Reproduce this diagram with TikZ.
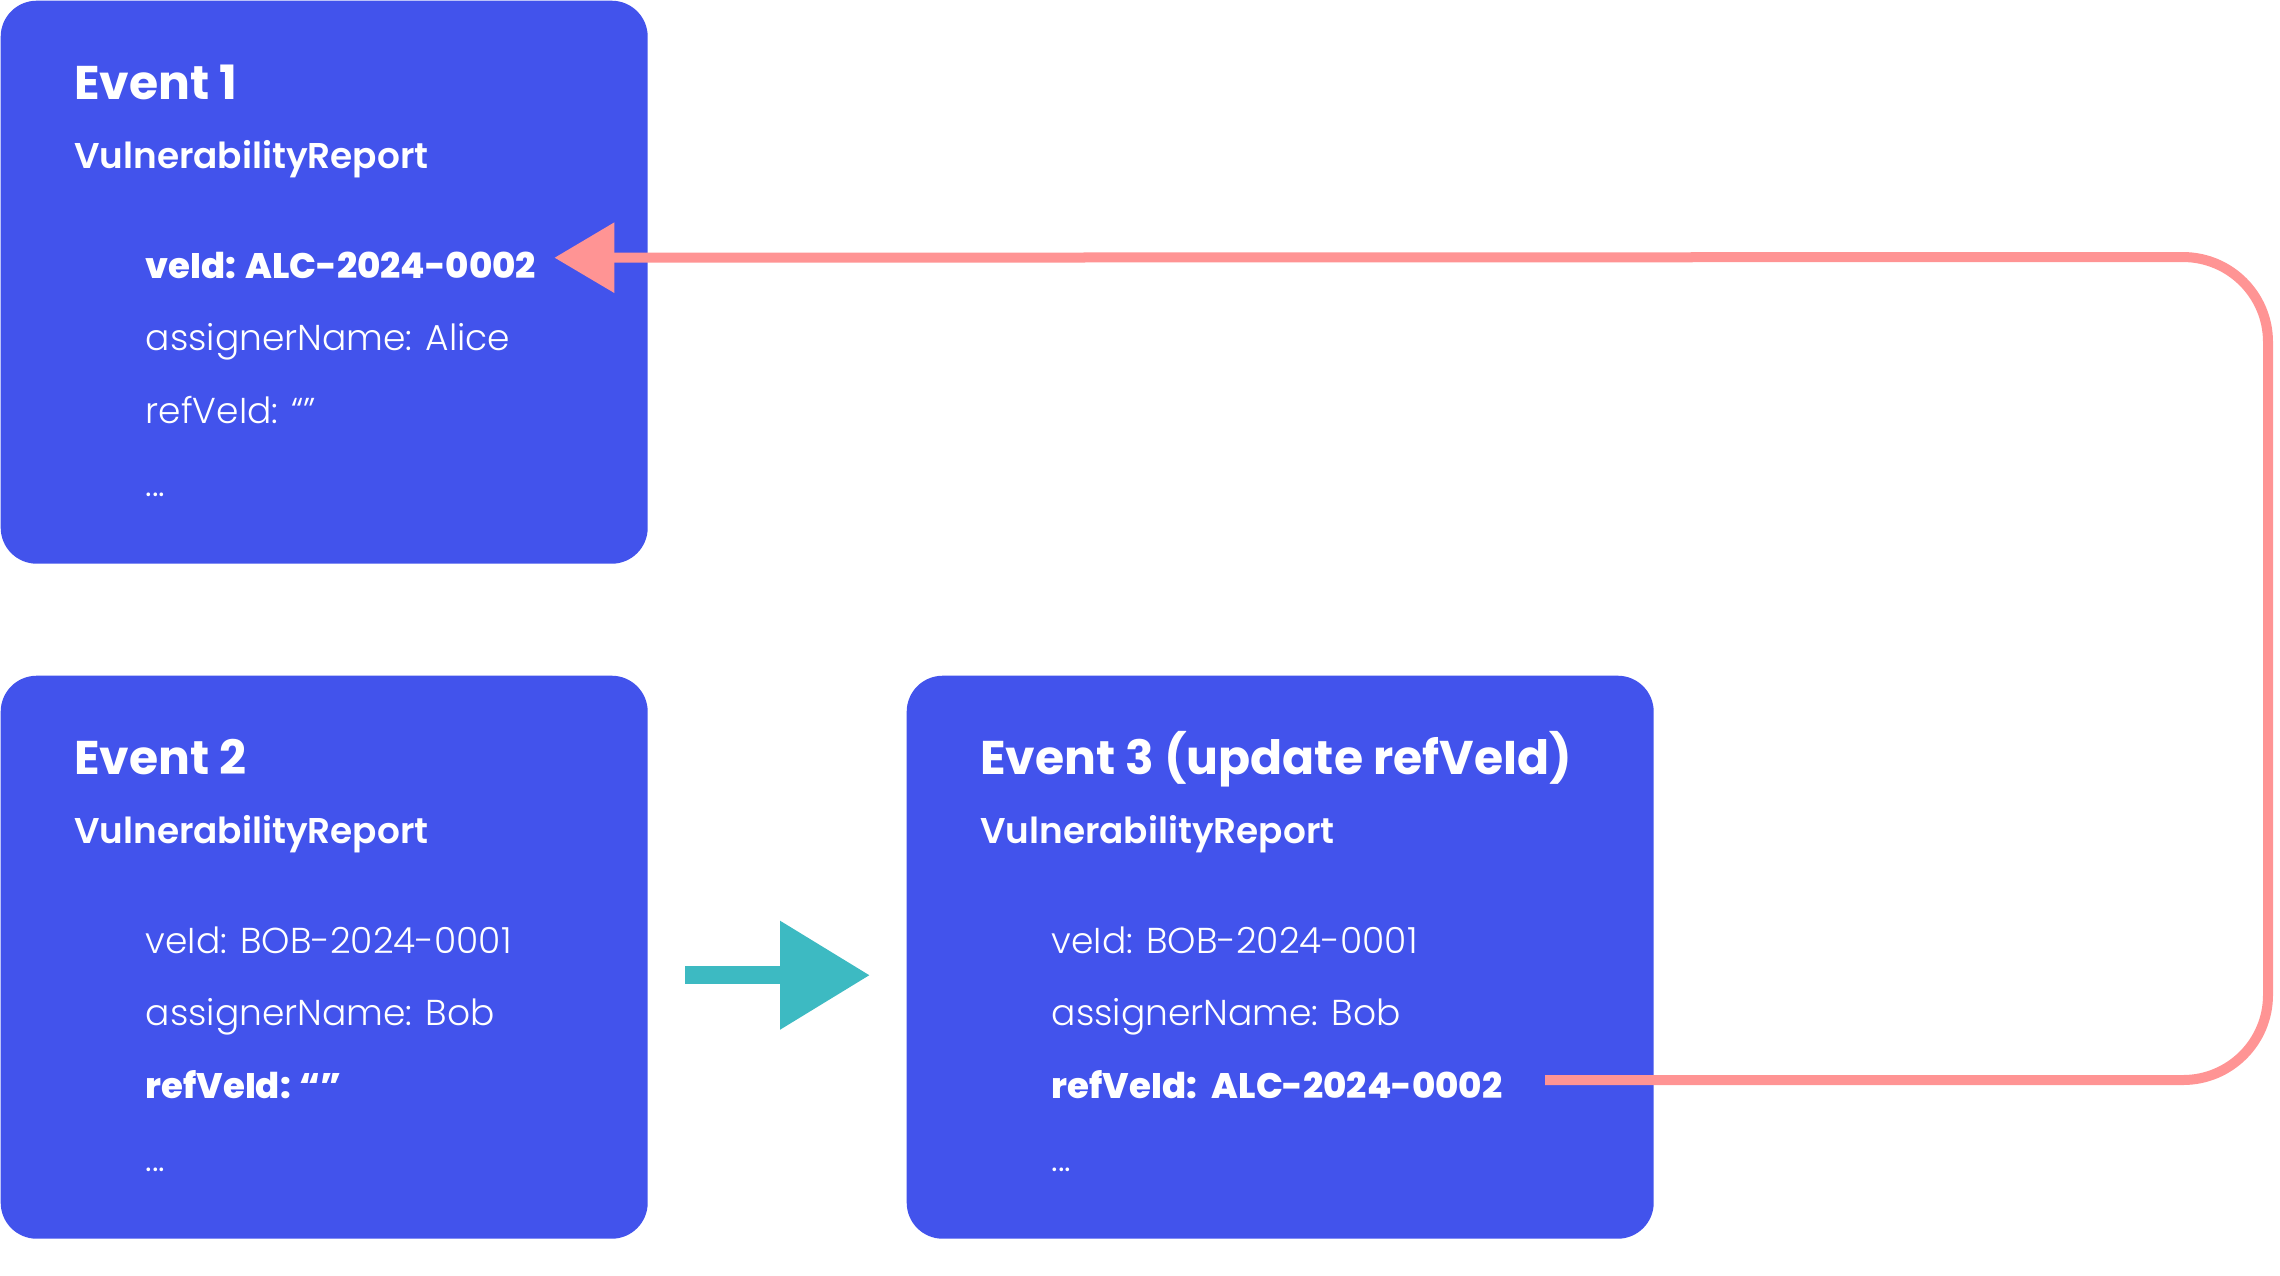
\documentclass[tikz,border=0pt]{standalone}
\usepackage{fontspec}
\setmainfont{Poppins}
\newfontfamily\evlight{Poppins Light}
\newfontfamily\evsemi{Poppins SemiBold}
\newfontfamily\evbold{Poppins Bold}
\newfontfamily\evheavy{Poppins ExtraBold}
\usetikzlibrary{positioning}
\usetikzlibrary{arrows.meta}
\definecolor{eventblue}{RGB}{66,83,236}
\definecolor{linkpink}{RGB}{255,148,148}
\definecolor{flowteal}{RGB}{61,186,194}
\tikzset{
  eventbox/.style={fill=eventblue, draw=none, rounded corners=0.36cm, anchor=north west, inner sep=0pt, minimum width=6.47cm, minimum height=5.63cm},
  evtitle/.style={anchor=base west, inner sep=0pt, text=white, font=\evbold\fontsize{13.45pt}{16pt}\selectfont},
  evtype/.style={anchor=base west, inner sep=0pt, text=white, font=\evsemi\fontsize{10.2pt}{12pt}\selectfont},
  evfield/.style={anchor=base west, inner sep=0pt, text=white, font=\evlight\fontsize{10.25pt}{12pt}\selectfont},
  evkey/.style={anchor=base west, inner sep=0pt, text=white, font=\evheavy\fontsize{10.1pt}{12pt}\selectfont},
  linkline/.style={draw=linkpink, line width=0.1cm, rounded corners=0.85cm, -{Triangle[length=0.6cm, width=0.68cm]}},
  flowarrow/.style={draw=flowteal, line width=0.18cm, -{Triangle[length=0.9cm, width=1.04cm]}}
}
\begin{document}
\begin{tikzpicture}

\useasboundingbox (0,0) rectangle (22.8,-12.75);

% event boxes
\node[eventbox] (ev1) at (0,0) {};
\node[eventbox] (ev2) at (0,-6.75) {};
\node[eventbox, minimum width=7.47cm] (ev3) at (9.06,-6.75) {};

% event 1
\node[evtitle] (title1) at ([xshift=0.735cm,yshift=-0.995cm]ev1.north west) {Event 1};
\node[evtype] (type1) at ([xshift=0.735cm,yshift=-1.68cm]ev1.north west) {VulnerabilityReport};
\node[evkey] (id1) at ([xshift=1.45cm,yshift=-2.78cm]ev1.north west) {veId: ALC-2024-0002};
\node[evfield] (name1) at ([xshift=1.45cm,yshift=-3.50cm]ev1.north west) {assignerName: Alice};
\node[evfield] (ref1) at ([xshift=1.45cm,yshift=-4.23cm]ev1.north west) {refVeId: “”};
\node[evfield] (more1) at ([xshift=1.45cm,yshift=-4.96cm]ev1.north west) {...};

% event 2
\node[evtitle] (title2) at ([xshift=0.735cm,yshift=-0.995cm]ev2.north west) {Event 2};
\node[evtype] (type2) at ([xshift=0.735cm,yshift=-1.68cm]ev2.north west) {VulnerabilityReport};
\node[evfield] (id2) at ([xshift=1.45cm,yshift=-2.78cm]ev2.north west) {veId: BOB-2024-0001};
\node[evfield] (name2) at ([xshift=1.45cm,yshift=-3.50cm]ev2.north west) {assignerName: Bob};
\node[evkey] (ref2) at ([xshift=1.45cm,yshift=-4.23cm]ev2.north west) {refVeId: “”};
\node[evfield] (more2) at ([xshift=1.45cm,yshift=-4.96cm]ev2.north west) {...};

% event 3
\node[evtitle] (title3) at ([xshift=0.735cm,yshift=-0.995cm]ev3.north west) {Event 3 (update refVeId)};
\node[evtype] (type3) at ([xshift=0.735cm,yshift=-1.68cm]ev3.north west) {VulnerabilityReport};
\node[evfield] (id3) at ([xshift=1.45cm,yshift=-2.78cm]ev3.north west) {veId: BOB-2024-0001};
\node[evfield] (name3) at ([xshift=1.45cm,yshift=-3.50cm]ev3.north west) {assignerName: Bob};
\node[evkey] (ref3) at ([xshift=1.45cm,yshift=-4.23cm]ev3.north west) {refVeId:\, ALC-2024-0002};
\node[evfield] (more3) at ([xshift=1.45cm,yshift=-4.96cm]ev3.north west) {...};

% links
\draw[flowarrow] ([xshift=0.37cm,yshift=-0.18cm]ev2.east) -- ([xshift=-0.36cm,yshift=-0.18cm]ev3.west);

\coordinate (linkstart) at (15.45,-10.80);
\coordinate (linkturn) at (22.68,-2.57);
\coordinate (linkend) at ([xshift=-0.94cm,yshift=0.245cm]ev1.east);
\draw[linkline] (linkstart) -| (linkturn) -- (linkend);

\end{tikzpicture}
\end{document}
